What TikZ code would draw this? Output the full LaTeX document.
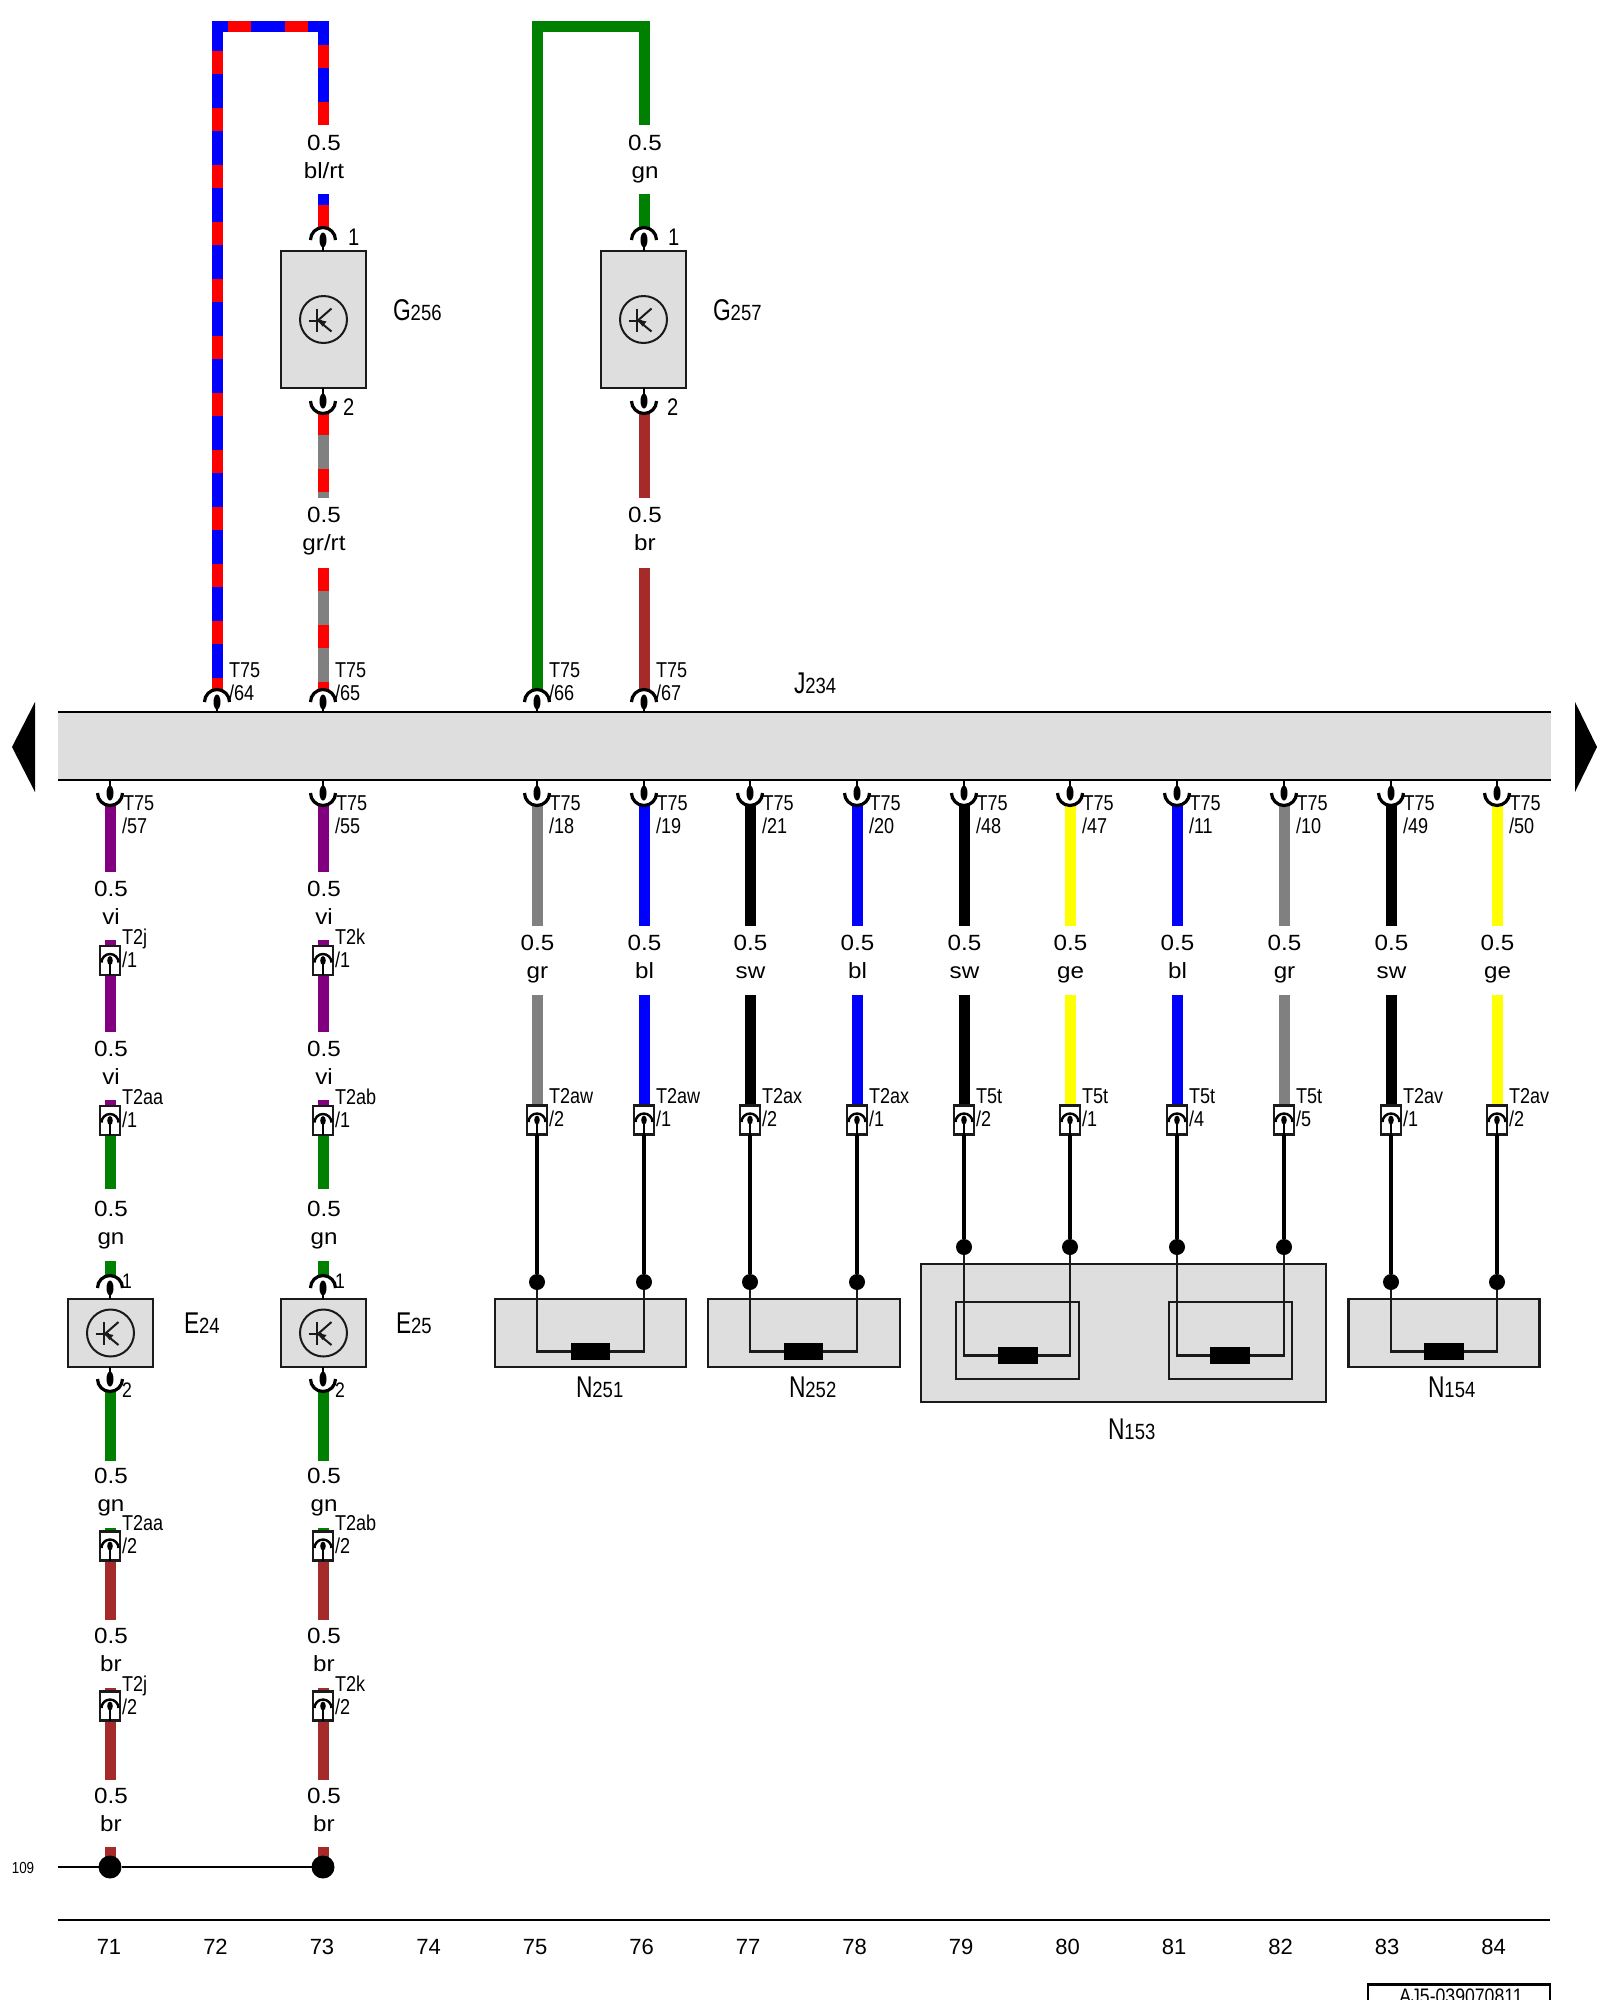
\documentclass[tikz,border=0pt]{standalone}
\usepackage{fontspec}
\setmainfont{Liberation Sans}
\newfontfamily\lblf[FakeStretch=1.1]{Liberation Sans}
\newfontfamily\cndf[FakeStretch=0.84]{Liberation Sans}
\newfontfamily\bigf[FakeStretch=0.76]{Liberation Sans}
\definecolor{wgreen}{HTML}{008000}
\definecolor{wbrown}{HTML}{A52A2A}
\definecolor{wgray}{HTML}{808080}
\definecolor{wblue}{HTML}{0000FF}
\definecolor{wred}{HTML}{FF0000}
\definecolor{wviolet}{HTML}{800080}
\definecolor{wyellow}{HTML}{FFFF00}
\definecolor{wblack}{HTML}{000000}
\definecolor{panel}{HTML}{DEDEDE}
\definecolor{ink}{HTML}{1A1A1A}
\newcount\wn \wn=0
\tikzset{
  wire/.style={line width=11pt,line cap=butt,miter limit=10},
  stripe/.style={wire,wred,dash pattern=on 23pt off 34pt},
  comp/.style={draw=ink,fill=panel,line width=2.6pt,inner sep=0,outer sep=0},
  txt/.style={inner sep=0,outer sep=0,anchor=base west,text=black},
  ctxt/.style={inner sep=0,outer sep=0,anchor=base,text=black},
  cbox/.style={draw=ink,fill=white,line width=2.2pt,minimum width=20pt,minimum height=29pt,inner sep=0,outer sep=0},
  res/.style={fill=black,inner sep=0,outer sep=0},
  sdot/.style={circle,fill=black,minimum size=16pt,inner sep=0,outer sep=0},
  gdot/.style={circle,fill=black,minimum size=23pt,inner sep=0,outer sep=0},
  thin/.style={draw=ink,line width=2.2pt},
  shield/.style={draw=black,line width=4.6pt},
}
% wire segment between two named coordinates
\newcommand\wseg[4]{%
  \global\advance\wn by 1
  \coordinate (sa\the\wn) at (#2,#3);
  \coordinate (sb\the\wn) at (#2,#4);
  \draw[wire,#1] (sa\the\wn) -- (sb\the\wn);}
% striped wire segment
\newcommand\wstr[4]{%
  \global\advance\wn by 1
  \coordinate (sa\the\wn) at (#2,#3);
  \coordinate (sb\the\wn) at (#2,#4);
  \draw[wire,#1] (sa\the\wn) -- (sb\the\wn);
  \draw[stripe] (sa\the\wn) -- (sb\the\wn);}
% cross-section and colour labels
\newcommand\wlab[3]{%
  \global\advance\wn by 1
  \node[ctxt,font={\lblf\fontsize{22}{24}\selectfont}] (ql\the\wn) at (#1+1,#2) {0.5};
  \node[ctxt,font={\lblf\fontsize{22}{24}\selectfont}] (cl\the\wn) at (#1+1,#2+28.5) {#3};}
% two-line terminal label
\newcommand\tlab[5]{%
  \global\advance\wn by 1
  \node[txt,font={\cndf\fontsize{21.5}{23}\selectfont}] (ta\the\wn) at (#1,#2) {#3};
  \node[txt,font={\cndf\fontsize{21.5}{23}\selectfont}] (tb\the\wn) at (#4,#2+23) {#5};}
% pin opening upward / downward: name, x, y, node-anchor it joins
\newcommand\pinup[4]{%
  \coordinate (#1) at (#2,#3);
  \draw[line width=3.2pt,black] (#2-12.5,#3) arc[start angle=180,end angle=0,radius=12.5pt];
  \fill[black] (#1) ellipse[x radius=3.5pt,y radius=7.5pt];
  \draw[black,line width=2.4pt] (#1) -- (#1 |- #4);}
\newcommand\pindown[4]{%
  \coordinate (#1) at (#2,#3);
  \draw[line width=3.2pt,black] (#2-12.5,#3) arc[start angle=180,end angle=360,radius=12.5pt];
  \fill[black] (#1) ellipse[x radius=3.5pt,y radius=7.5pt];
  \draw[black,line width=2.4pt] (#1) -- (#1 |- #4);}
% housed plug contact
\newcommand\plug[3]{%
  \node[cbox] (#1) at (#2,#3) {};
  \coordinate (#1i) at (#2,#3);
  \draw[line width=2.4pt,black] (#2-8.5,#3+2) arc[start angle=180,end angle=0,radius=8.5pt];
  \fill[black] (#1i) ellipse[x radius=2.8pt,y radius=4.5pt];
  \draw[black,line width=2pt] (#1i) -- (#1.south);}
% sensor symbol
\newcommand\sensor[3]{%
  \coordinate (#1) at (#2,#3);
  \draw[ink,line width=2pt] (#1) circle[radius=23.5pt];
  \begin{scope}[shift={(#2,#3)},ink,line width=2pt]
    \draw (-6.7,-11) -- (-6.7,12.3);
    \draw (-15,1.3) -- (-2,1.3);
    \draw (-6,1.3) -- (8,-11);
    \draw (8,12) -- (-5,1.3);
    \fill (-6,0) -- (3,2) -- (-1,7) -- cycle;
  \end{scope}}
\newcommand\bigname[4]{%
  \global\advance\wn by 1
  \node[txt] (nm\the\wn) at (#1,#2) {{\bigf\fontsize{30}{32}\selectfont #3}{\cndf\fontsize{22}{23}\selectfont #4}};}
\begin{document}
\begin{tikzpicture}[x=1pt,y=-1pt]
\clip (0,0) rectangle (1600,2000);
\fill[white] (0,0) rectangle (1600,2000);

% ---------- main control unit bar
\node[fill=panel,inner sep=0,outer sep=0,minimum width=1493pt,minimum height=68pt] (J) at (804.5,746) {};
\draw[black,line width=2.6pt] (J.north west) -- (J.north east);
\draw[black,line width=2.6pt] (J.south west) -- (J.south east);
\fill[black] (12,747) -- (35,702) -- (35,792) -- cycle;
\fill[black] (1597,747) -- (1575,702) -- (1575,792) -- cycle;
\bigname{794}{693}{J}{234}

% ---------- upper wires
\coordinate (ua) at (323,125);
\coordinate (ub) at (323,26.5);
\coordinate (uc) at (217.5,26.5);
\coordinate (ud) at (217.5,690);
\draw[wire,wblue] (ua) -- (ub) -- (uc) -- (ud);
\draw[stripe] (ua) -- (ub) -- (uc) -- (ud);
\wstr{wblue}{323}{228}{194}
\wstr{wgray}{323}{412}{498}
\wstr{wgray}{323}{568}{690}
\coordinate (ga) at (644,125);
\coordinate (gb) at (644,26.5);
\coordinate (gc) at (537,26.5);
\coordinate (gd) at (537,690);
\draw[wire,wgreen] (ga) -- (gb) -- (gc) -- (gd);
\wseg{wgreen}{644}{194}{228}
\wseg{wbrown}{644}{412}{498}
\wseg{wbrown}{644}{568}{690}
\wlab{323}{150}{bl/rt}
\wlab{323}{522}{gr/rt}
\wlab{644}{150}{gn}
\wlab{644}{522}{br}

% sensors G256, G257
\node[comp,minimum width=85pt,minimum height=137pt] (G256) at (323.5,319.5) {};
\node[comp,minimum width=85pt,minimum height=137pt] (G257) at (643.5,319.5) {};
\sensor{sG256}{323.5}{319.5}
\sensor{sG257}{643.5}{319.5}
\pinup{g6a}{323}{240}{G256.north}
\pindown{g6b}{323}{401}{G256.south}
\pinup{g7a}{644}{240}{G257.north}
\pindown{g7b}{644}{401}{G257.south}
\bigname{393}{320}{G}{256}
\bigname{713}{320}{G}{257}
\node[txt,font={\cndf\fontsize{24}{26}\selectfont}] (l6a) at (348,245) {1};
\node[txt,font={\cndf\fontsize{24}{26}\selectfont}] (l6b) at (343,415) {2};
\node[txt,font={\cndf\fontsize{24}{26}\selectfont}] (l7a) at (668,245) {1};
\node[txt,font={\cndf\fontsize{24}{26}\selectfont}] (l7b) at (667,415) {2};

% pins on top of the bar
\foreach \x/\n in {217/64,323/65,537/66,644/67}{
  \pinup{pt\n}{\x}{702}{J.north}
  \tlab{\x+12}{677}{T75}{\x+12}{/\n}
}

% ---------- columns 71 and 73
\foreach \x/\ta/\tb/\ename/\enum/\ex in {110/T2j/T2aa/E/24/184,323/T2k/T2ab/E/25/396}{
  \wseg{wviolet}{\x}{804}{872}
  \wseg{wviolet}{\x}{940}{1032}
  \wseg{wviolet}{\x}{1100}{1110}
  \wseg{wgreen}{\x}{1130}{1189}
  \wseg{wgreen}{\x}{1261}{1276}
  \wseg{wgreen}{\x}{1390}{1461}
  \wseg{wgreen}{\x}{1528}{1540}
  \wseg{wbrown}{\x}{1555}{1620}
  \wseg{wbrown}{\x}{1688}{1700}
  \wseg{wbrown}{\x}{1715}{1780}
  \wseg{wbrown}{\x}{1847}{1860}
  \wlab{\x}{896}{vi}
  \wlab{\x}{1056}{vi}
  \wlab{\x}{1216}{gn}
  \wlab{\x}{1483}{gn}
  \wlab{\x}{1643}{br}
  \wlab{\x}{1803}{br}
  \plug{pa\x}{\x}{960.5}
  \plug{pb\x}{\x}{1120.5}
  \plug{pc\x}{\x}{1546}
  \plug{pd\x}{\x}{1706}
  \tlab{\x+12}{944}{\ta}{\x+12}{/1}
  \tlab{\x+12}{1104}{\tb}{\x+12}{/1}
  \tlab{\x+12}{1530}{\tb}{\x+12}{/2}
  \tlab{\x+12}{1691}{\ta}{\x+12}{/2}
  \pindown{pj\x}{\x}{793}{J.south}
  \tlab{\x+13}{810}{T75}{\x+12}{/\ifnum\x=110 57\else 55\fi}
  \node[comp,minimum width=85pt,minimum height=68pt] (E\enum) at (\x+.5,1333) {};
  \sensor{sE\enum}{\x+.5}{1333}
  \pinup{ea\x}{\x}{1288}{E\enum.north}
  \pindown{eb\x}{\x}{1379}{E\enum.south}
  \node[txt,font={\cndf\fontsize{21}{23}\selectfont}] (ln\x a) at (\x+12,1288) {1};
  \node[txt,font={\cndf\fontsize{21}{23}\selectfont}] (ln\x b) at (\x+12,1397) {2};
  \bigname{\ex}{1333}{\ename}{\enum}
  \node[gdot] (gd\x) at (\x,1867) {};
}
\coordinate (gnd) at (58,1867);
\draw[black,line width=2.6pt] (gnd) -- (gd110) -- (gd323);
\node[ctxt,font={\cndf\fontsize{16}{18}\selectfont}] (n109) at (23,1873) {109};

% ---------- component boxes
\node[comp,minimum width=191pt,minimum height=68pt] (N251) at (590.5,1333) {};
\node[comp,minimum width=192pt,minimum height=68pt] (N252) at (804,1333) {};
\node[comp,minimum width=405pt,minimum height=138pt] (N153) at (1123.5,1333) {};
\node[comp,minimum width=191pt,minimum height=68pt] (N154) at (1444,1333) {};
\node[thin,minimum width=123pt,minimum height=77pt,inner sep=0,outer sep=0] (N153a) at (1017.5,1340.5) {};
\node[thin,minimum width=123pt,minimum height=77pt,inner sep=0,outer sep=0] (N153b) at (1230.5,1340.5) {};
\node[res,minimum width=39pt,minimum height=17pt] (R251) at (590.5,1351.5) {};
\node[res,minimum width=39pt,minimum height=17pt] (R252) at (803.5,1351.5) {};
\node[res,minimum width=40pt,minimum height=17pt] (R153a) at (1017.5,1355.5) {};
\node[res,minimum width=40pt,minimum height=17pt] (R153b) at (1230,1355.5) {};
\node[res,minimum width=40pt,minimum height=17pt] (R154) at (1443.5,1351.5) {};
\bigname{576}{1397}{N}{251}
\bigname{789}{1397}{N}{252}
\bigname{1108}{1439}{N}{153}
\bigname{1428}{1397}{N}{154}

% ---------- columns 75 to 84
\foreach \x/\col/\lab/\tn/\cn/\cs/\dy in {
  537/wgray/gr/18/T2aw/2/1282,
  644/wblue/bl/19/T2aw/1/1282,
  750/wblack/sw/21/T2ax/2/1282,
  857/wblue/bl/20/T2ax/1/1282,
  964/wblack/sw/48/T5t/2/1247,
  1070/wyellow/ge/47/T5t/1/1247,
  1177/wblue/bl/11/T5t/4/1247,
  1284/wgray/gr/10/T5t/5/1247,
  1391/wblack/sw/49/T2av/1/1282,
  1497/wyellow/ge/50/T2av/2/1282}{
  \wseg{\col}{\x}{804}{926}
  \wseg{\col}{\x}{995}{1108}
  \wlab{\x-0.5}{950}{\lab}
  \pindown{pk\x}{\x}{793}{J.south}
  \tlab{\x+12.5}{810}{T75}{\x+12}{/\tn}
  \plug{pp\x}{\x}{1120}
  \tlab{\x+12}{1103}{\cn}{\x+12}{/\cs}
  \node[sdot] (d\x) at (\x,\dy) {};
  \draw[shield] (pp\x.south) -- (d\x);
}
% inner conductors
\draw[thin] (d537) |- (R251.west);
\draw[thin] (d644) |- (R251.east);
\draw[thin] (d750) |- (R252.west);
\draw[thin] (d857) |- (R252.east);
\draw[thin] (d964) |- (R153a.west);
\draw[thin] (d1070) |- (R153a.east);
\draw[thin] (d1177) |- (R153b.west);
\draw[thin] (d1284) |- (R153b.east);
\draw[thin] (d1391) |- (R154.west);
\draw[thin] (d1497) |- (R154.east);

% ---------- footer
\coordinate (fa) at (58,1920);
\coordinate (fb) at (1550,1920);
\draw[black,line width=2.6pt] (fa) -- (fb);
\foreach \k/\lab in {0/71,1/72,2/73,3/74,4/75,5/76,6/77,7/78,8/79,9/80,10/81,11/82,12/83,13/84}{
  \node[ctxt,font={\fontsize{22}{24}\selectfont}] (col\lab) at (109+106.5*\k,1954) {\lab};
}
\draw[black,line width=2.6pt] (1368,2010) -- (1368,1984.5) -- (1550,1984.5) -- (1550,2010);
\node[ctxt,font={\cndf\fontsize{21}{23}\selectfont}] (ref) at (1461,2003) {AJ5-039070811};
\end{tikzpicture}
\end{document}
